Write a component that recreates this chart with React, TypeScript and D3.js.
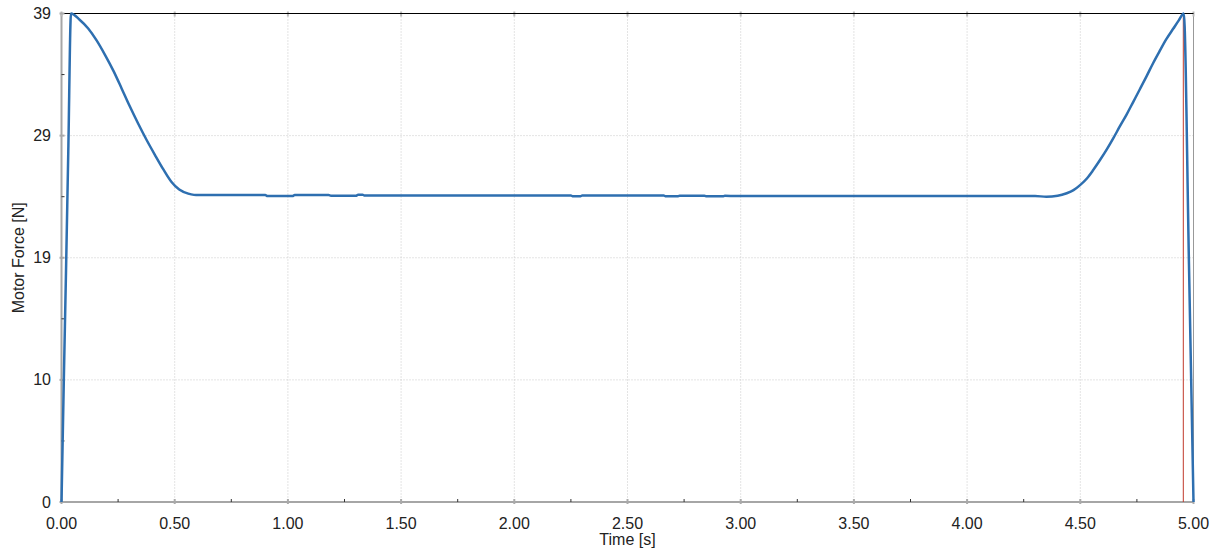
import React from "react";
import * as d3 from "d3";

const timeS = [
  0, 0.01, 0.02, 0.03, 0.042, 0.08, 0.118, 0.155, 0.192, 0.23, 0.266, 0.3, 0.339, 0.376, 0.413, 0.45,
  0.486, 0.52, 0.56, 0.585, 0.604, 0.9, 0.91, 1.02, 1.03, 1.18, 1.19, 1.3, 1.31, 1.33, 1.34, 2.25,
  2.26, 2.29, 2.3, 2.66, 2.67, 2.72, 2.73, 2.84, 2.85, 2.92, 2.93, 2.98, 4.3, 4.35, 4.4, 4.44, 4.47,
  4.499, 4.53, 4.557, 4.587, 4.617, 4.646, 4.675, 4.705, 4.734, 4.763, 4.793, 4.822, 4.852, 4.88,
  4.911, 4.935, 4.957, 4.98, 5.0,
];
const forceN = [
  0, 9.5, 18.5, 28, 39, 38.5, 37.8, 36.85, 35.7, 34.4, 33.0, 31.65, 30.2, 28.9, 27.7, 26.55,
  25.55, 24.95, 24.62, 24.52, 24.5, 24.5, 24.43, 24.43, 24.5, 24.5, 24.45, 24.45, 24.52, 24.52, 24.46, 24.46,
  24.4, 24.4, 24.46, 24.46, 24.4, 24.4, 24.45, 24.45, 24.4, 24.4, 24.45, 24.42, 24.42, 24.38, 24.45, 24.65, 24.9,
  25.3, 25.85, 26.5, 27.3, 28.15, 29.05, 30.0, 30.95, 31.95, 32.95, 34.0, 35.05, 36.05, 36.95,
  37.8, 38.45, 39, 19, 0,
];

const xTickValues = [0, 0.5, 1, 1.5, 2, 2.5, 3, 3.5, 4, 4.5, 5];
const xTickLabels = ["0.00", "0.50", "1.00", "1.50", "2.00", "2.50", "3.00", "3.50", "4.00", "4.50", "5.00"];
const yTickValues = [0, 9.75, 19.5, 29.25, 39];
const yTickLabels = ["0", "10", "19", "29", "39"];
const cursorTime = 4.955;

const W = 1227;
const H = 553;
const left = 61.5;
const right = 1193.5;
const top = 13.5;
const bottom = 502;

export default function App() {
  const x = d3.scaleLinear().domain([0, 5]).range([left, right]);
  const y = d3.scaleLinear().domain([0, 39]).range([bottom, top]);
  const pts: [number, number][] = timeS.map((t, i) => [t, forceN[i]]);
  const line = d3
    .line<[number, number]>()
    .x((d) => x(d[0]))
    .y((d) => y(d[1]))
    .curve(d3.curveMonotoneX);

  const xMinor = xTickValues.slice(0, -1).map((v) => v + 0.25);
  const yMinor = yTickValues.slice(0, -1).map((v) => v + 39 / 8);
  const font = "'Liberation Sans', Arial, sans-serif";

  return (
    <svg
      width={W}
      height={H}
      style={{ position: "absolute", left: 0, top: 0, background: "#fff" }}
      fontFamily={font}
    >
      <rect x={0} y={0} width={W} height={H} fill="#fff" />
      {/* grid */}
      {xTickValues.slice(1, -1).map((v) => (
        <line key={"gx" + v} x1={x(v)} x2={x(v)} y1={top} y2={bottom} stroke="#c8c8c8" strokeWidth={1} strokeDasharray="1,2" />
      ))}
      {yTickValues.slice(1, -1).map((v) => (
        <line key={"gy" + v} x1={left} x2={right} y1={y(v)} y2={y(v)} stroke="#c8c8c8" strokeWidth={1} strokeDasharray="1,2" />
      ))}
      {/* borders */}
      <line x1={right} x2={right} y1={top} y2={bottom} stroke="#999" strokeWidth={1} />
      <line x1={left} x2={left} y1={top} y2={bottom} stroke="#a6a6a6" strokeWidth={2} />
      <line x1={left} x2={right} y1={bottom} y2={bottom} stroke="#a6a6a6" strokeWidth={2} />
      {/* major tick markers */}
      {xTickValues.map((v) => (
        <g key={"mx" + v}>
          <line x1={x(v)} x2={x(v)} y1={bottom - 3} y2={bottom + 2} stroke="#aaa" strokeWidth={2} />
          <line x1={x(v)} x2={x(v)} y1={top - 2} y2={top + 3} stroke="#bbb" strokeWidth={2} />
        </g>
      ))}
      <line x1={left} x2={right} y1={top} y2={top} stroke="#000" strokeWidth={1} />
      {yTickValues.map((v) => (
        <line key={"my" + v} x1={left - 2} x2={left + 3} y1={y(v)} y2={y(v)} stroke="#aaa" strokeWidth={2} />
      ))}
      {xMinor.map((v) => (
        <line key={"nx" + v} x1={x(v)} x2={x(v)} y1={bottom - 3} y2={bottom} stroke="#333" strokeWidth={1} />
      ))}
      {yMinor.map((v) => (
        <line key={"ny" + v} x1={left} x2={left + 3} y1={y(v)} y2={y(v)} stroke="#333" strokeWidth={1} />
      ))}
      {/* cursor */}
      <line x1={x(cursorTime)} x2={x(cursorTime)} y1={top} y2={bottom} stroke="#c0392b" strokeWidth={1} />
      {/* data */}
      <path d={line(pts) || ""} fill="none" stroke="#2e6fb0" strokeWidth={2.5} strokeLinejoin="round" />
      {/* tick labels */}
      {xTickValues.map((v, i) => (
        <text key={"tx" + v} x={x(v)} y={529} textAnchor="middle" fontSize={16} fill="#222">
          {xTickLabels[i]}
        </text>
      ))}
      {yTickValues.map((v, i) => (
        <text key={"ty" + v} x={51} y={y(v) + 5.5} textAnchor="end" fontSize={16} fill="#222">
          {yTickLabels[i]}
        </text>
      ))}
      <text x={(left + right) / 2} y={545} textAnchor="middle" fontSize={16} fill="#222">
        Time [s]
      </text>
      <text
        transform={`translate(24, ${(top + bottom) / 2}) rotate(-90)`}
        textAnchor="middle"
        fontSize={16}
        fill="#222"
      >
        Motor Force [N]
      </text>
    </svg>
  );
}
